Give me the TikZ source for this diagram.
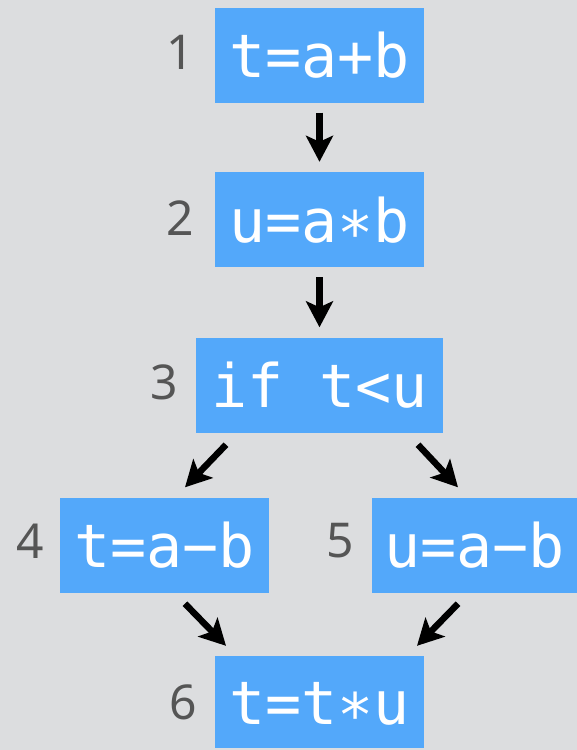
\documentclass[tikz,border=0pt]{standalone}
\usepackage{fontspec}
\newfontfamily\codefont{DejaVu Sans Mono}
\newfontfamily\numfont{Noto Sans}
\usetikzlibrary{arrows.meta,calc}
\definecolor{bgc}{HTML}{DCDDDF}
\definecolor{boxc}{HTML}{53A8FA}
\definecolor{numc}{HTML}{555555}
\newcommand{\lowstar}{\raisebox{-0.2em}{*}}
\tikzset{
  stmt/.style={fill=boxc, text=white, inner sep=0pt, minimum height=95pt,
    minimum width=209pt, text height=45.6pt, text depth=0pt,
    font=\codefont\fontsize{60}{72}\selectfont},
  num/.style={text=numc, inner sep=0pt, font=\numfont\fontsize{48}{56}\selectfont},
  flow/.style={line width=6.5pt, draw=black, -{Stealth[length=26pt,width=27pt,inset=6pt]}}
}
\begin{document}
\begin{tikzpicture}[x=1pt,y=-1pt]
\fill[bgc] (0,0) rectangle (577,750);
\useasboundingbox (0,0) rectangle (577,750);
\node[stmt] (b1) at (319.5,55) {t=a+b};
\node[stmt] (b2) at (319.5,219.5) {u=a\lowstar b};
\node[stmt, minimum width=247pt] (b3) at (319.5,385) {if t<u};
\node[stmt] (b4) at (164.5,545) {t=a−b};
\node[stmt, minimum width=205pt] (b5) at (474.5,545) {u=a−b};
\node[stmt, minimum height=92pt] (b6) at (319.5,702) {t=t\lowstar u};
\node[num, anchor=east] (n1) at ($(b1.west)+(-21,-3)$) {1};
\node[num, anchor=east] (n2) at ($(b2.west)+(-21,-1)$) {2};
\node[num, anchor=east] (n3) at ($(b3.west)+(-18,-3)$) {3};
\node[num, anchor=east] (n4) at ($(b4.west)+(-16,-4)$) {4};
\node[num, anchor=east] (n5) at ($(b5.west)+(-18,-4)$) {5};
\node[num, anchor=east] (n6) at ($(b6.west)+(-18,0)$) {6};
\coordinate (t34) at ($(b3.south)+(-93.5,12)$);
\coordinate (h34) at ($(b4.north)+(20.5,-10)$);
\coordinate (t35) at ($(b3.south)+(98.5,12)$);
\coordinate (h35) at ($(b5.north)+(-16.5,-10)$);
\coordinate (t46) at ($(b4.south)+(20.5,11)$);
\coordinate (h46) at ($(b6.north)+(-93.5,-10)$);
\coordinate (t56) at ($(b5.south)+(-16.5,11)$);
\coordinate (h56) at ($(b6.north)+(97.5,-10)$);
\draw[flow, shorten <=10pt, shorten >=10pt] (b1) -- (b2);
\draw[flow, shorten <=10pt, shorten >=10pt] (b2) -- (b3);
\draw[flow] (t34) -- (h34);
\draw[flow] (t35) -- (h35);
\draw[flow] (t46) -- (h46);
\draw[flow] (t56) -- (h56);
\end{tikzpicture}
\end{document}
